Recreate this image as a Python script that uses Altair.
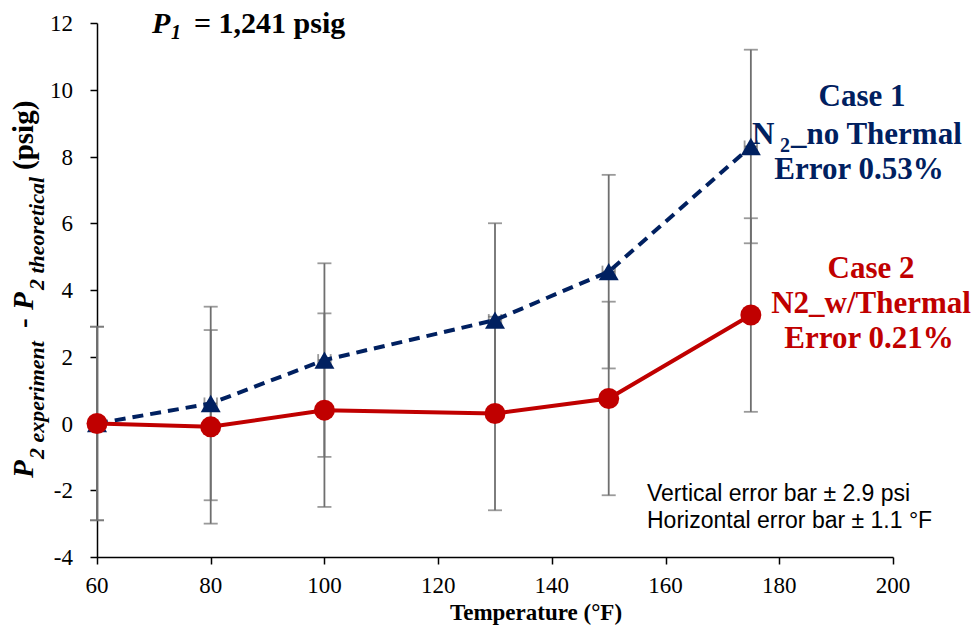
import altair as alt
import pandas as pd

temps = [60, 80, 100, 130, 150, 175]
case1 = [0.0, 0.6, 1.9, 3.1, 4.55, 8.3]
case2 = [0.0, -0.1, 0.4, 0.3, 0.75, 3.25]
series_names = ["Case 1", "Case 2"]
v_err = 2.9
h_err = 1.1
x_ticks = [60, 80, 100, 120, 140, 160, 180, 200]
y_ticks = [-4, -2, 0, 2, 4, 6, 8, 10, 12]

BLUE = "#002060"
RED = "#C00000"
GRAY = "#6f6f6f"
SERIF = "Liberation Serif"
SERIF_LIST = "'Liberation Serif', 'Times New Roman', Times, Tinos, 'DejaVu Serif', serif"
SANS = "Liberation Sans"

rows = []
for name, vals in zip(series_names, [case1, case2]):
    for t, v in zip(temps, vals):
        rows.append({"T": t, "val": v, "series": name,
                     "lo": v - v_err, "hi": v + v_err,
                     "tlo": t - h_err, "thi": t + h_err})
df = pd.DataFrame(rows)
xt_df = pd.DataFrame({"v": x_ticks, "lab": [str(v) for v in x_ticks]})
yt_df = pd.DataFrame({"v": y_ticks, "lab": [str(v) for v in y_ticks]})

W, H = 796, 534
PADL, PADT = 97, 23

xs = alt.Scale(domain=[60, 200], nice=False, zero=False)
ys = alt.Scale(domain=[-4, 12], nice=False, zero=False)

base = alt.Chart(df)

axis_common = dict(title=None, grid=False, domainColor="black", domainWidth=1.5,
                   tickColor="black", tickWidth=1.5, tickSize=7, labels=False)
x_axis = alt.Axis(values=x_ticks, **axis_common)
y_axis = alt.Axis(values=y_ticks, **axis_common)

vrule = base.mark_rule(color=GRAY, strokeWidth=1.8).encode(
    x=alt.X("T:Q", scale=xs, axis=x_axis),
    y=alt.Y("lo:Q", scale=ys, axis=y_axis),
    y2="hi:Q",
)
vcap_lo = base.mark_tick(color=GRAY, orient="horizontal", size=14, thickness=1.8).encode(
    x=alt.X("T:Q", scale=xs, axis=x_axis), y=alt.Y("lo:Q", scale=ys, axis=y_axis))
vcap_hi = base.mark_tick(color=GRAY, orient="horizontal", size=14, thickness=1.8).encode(
    x=alt.X("T:Q", scale=xs, axis=x_axis), y=alt.Y("hi:Q", scale=ys, axis=y_axis))
hrule = base.mark_rule(color=GRAY, strokeWidth=1.8).encode(
    x=alt.X("tlo:Q", scale=xs, axis=x_axis), x2="thi:Q", y=alt.Y("val:Q", scale=ys, axis=y_axis))
hcap_lo = base.mark_tick(color=GRAY, orient="vertical", size=12, thickness=1.8).encode(
    x=alt.X("tlo:Q", scale=xs, axis=x_axis), y=alt.Y("val:Q", scale=ys, axis=y_axis))
hcap_hi = base.mark_tick(color=GRAY, orient="vertical", size=12, thickness=1.8).encode(
    x=alt.X("thi:Q", scale=xs, axis=x_axis), y=alt.Y("val:Q", scale=ys, axis=y_axis))

c1 = base.transform_filter(alt.datum.series == "Case 1")
c2 = base.transform_filter(alt.datum.series == "Case 2")

enc = dict(x=alt.X("T:Q", scale=xs, axis=x_axis), y=alt.Y("val:Q", scale=ys, axis=y_axis))
line1 = c1.mark_line(color=BLUE, strokeWidth=4, strokeDash=[11, 7]).encode(**enc)
pts1 = c1.mark_point(shape="triangle-up", filled=True, color=BLUE, opacity=1, size=400).encode(**enc)
line2 = c2.mark_line(color=RED, strokeWidth=4).encode(**enc)
pts2 = c2.mark_point(shape="circle", filled=True, color=RED, opacity=1, size=440).encode(**enc)

# tick labels as serif text through the same scales
xlabels = alt.Chart(xt_df).mark_text(font=SERIF_LIST, fontSize=23, fontWeight="normal",
                                     color="black", align="center",
                                     baseline="alphabetic").encode(
    x=alt.X("v:Q", scale=xs, axis=x_axis), y=alt.value(593 - PADT), text="lab:N")
ylabels = alt.Chart(yt_df).mark_text(font=SERIF_LIST, fontSize=23, fontWeight="normal",
                                     color="black", align="right",
                                     baseline="alphabetic", dy=8).encode(
    x=alt.value(73 - PADL), y=alt.Y("v:Q", scale=ys, axis=y_axis), text="lab:N")


def txt(text, sx, sy, size, color="black", font=SERIF, weight="bold", style="normal",
        align="left", angle=0):
    kw = dict(text=text, font=font, fontSize=size, fontWeight=weight, fontStyle=style,
              color=color, align=align, baseline="alphabetic")
    if angle:
        kw["angle"] = angle
    return alt.Chart(df.head(1)).mark_text(**kw).encode(
        x=alt.value(sx - PADL), y=alt.value(sy - PADT))


# rotated y-axis title, laid out piece by piece (bottom to top)
MAIN, SUB = 29, 22
MX, SX = 33, 44
ytitle = [
    ("P", MAIN, "italic", MX, 478),
    ("2 experiment", SUB, "italic", SX, 459),
    ("-", MAIN, "normal", MX, 328),
    ("P", MAIN, "italic", MX, 310),
    ("2 theoretical", SUB, "italic", SX, 290),
    ("(psig)", MAIN, "normal", MX, 170),
]

texts = [
    # top title
    txt("P", 152, 33, 30, style="italic"),
    txt("1", 171, 39, 20, style="italic"),
    txt("= 1,241 psig", 194, 33, 30),
    # Case 1 label
    txt("Case 1", 862, 106, 31, color=BLUE, align="center"),
    txt("N", 752, 144, 31, color=BLUE),
    txt("2", 780, 152, 20, color=BLUE),
    txt("_no Thermal", 791, 144, 31, color=BLUE),
    txt("Error 0.53%", 859, 179, 31, color=BLUE, align="center"),
    # Case 2 label
    txt("Case 2", 871, 278, 31, color=RED, align="center"),
    txt("N2_w/Thermal", 871, 313, 31, color=RED, align="center"),
    txt("Error 0.21%", 869, 348, 31, color=RED, align="center"),
    # error bar note
    txt("Vertical error bar \u00b1 2.9 psi", 647, 501, 23, font=SANS, weight="normal"),
    txt("Horizontal error bar \u00b1 1.1 \u00b0F", 647, 528, 23, font=SANS, weight="normal"),
    # x title
    txt("Temperature (\u00b0F)", 536, 620, 23, align="center"),
] + [txt(t, x, y, s, style=st, angle=270) for (t, s, st, x, y) in ytitle]

chart = alt.layer(vrule, vcap_lo, vcap_hi, hrule, hcap_lo, hcap_hi,
                  line1, pts1, line2, pts2, xlabels, ylabels, *texts).properties(
    width=W, height=H,
    autosize=alt.AutoSizeParams(type="none"),
    padding={"left": PADL, "top": PADT, "right": 977 - PADL - W, "bottom": 634 - PADT - H},
    background="white",
).configure_view(stroke=None)

chart.save("out.html", embed_options={"renderer": "svg", "actions": False})
